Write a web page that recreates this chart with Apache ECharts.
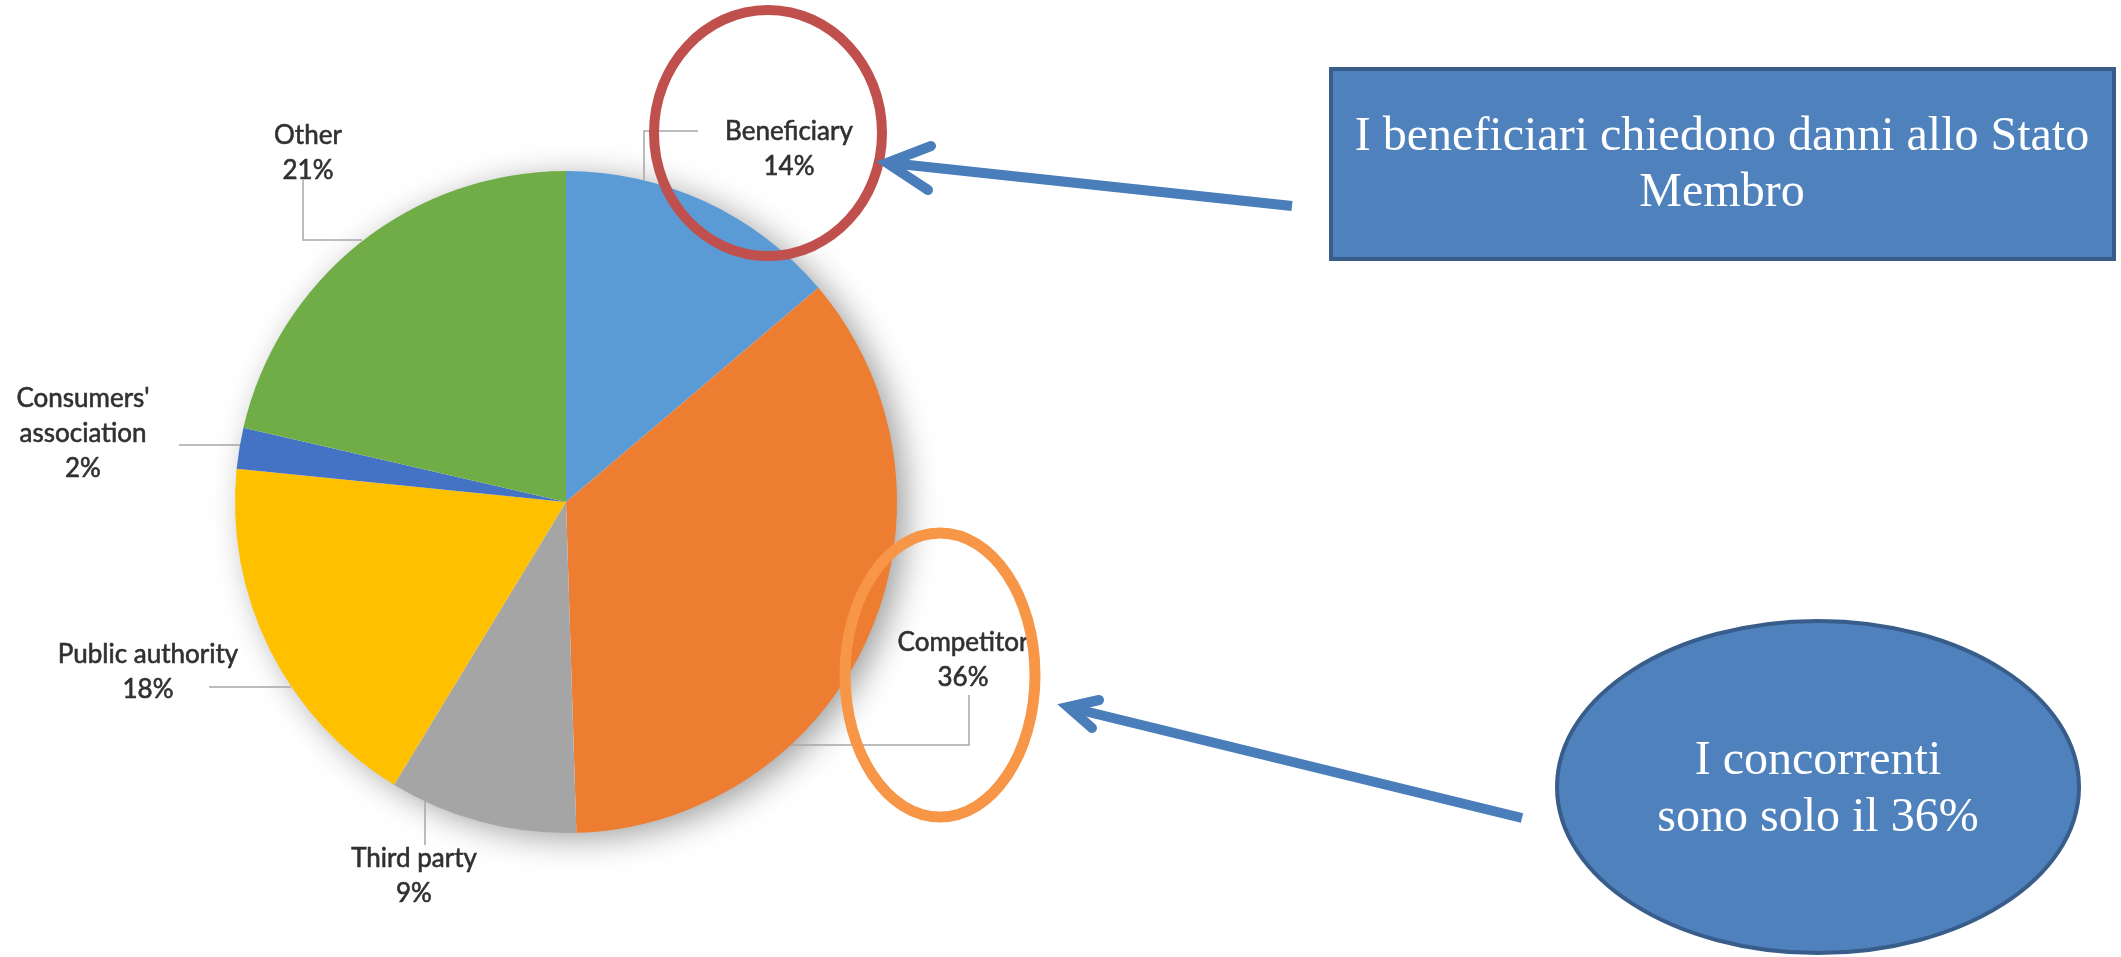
<!DOCTYPE html>
<html>
<head>
<meta charset="utf-8">
<script src="https://cdn.jsdelivr.net/npm/echarts@6/dist/echarts.min.js"></script>
<style>
html,body{margin:0;padding:0;background:#fff;}
#chart{width:2121px;height:957px;}
</style>
</head>
<body>
<div id="chart"></div>
<script>
// ---- data ----
const categories = ['Beneficiary', 'Competitor', 'Third party', 'Public authority', "Consumers'\nassociation", 'Other'];
const shares = [13.8, 35.7, 9.2, 17.9, 2.0, 21.4];
const sliceColors = ['#5B9BD5', '#ED7D31', '#A5A5A5', '#FFC000', '#4472C4', '#70AD47'];
const boxText = 'I beneficiari chiedono danni allo Stato\nMembro';
const ovalText = 'I concorrenti\nsono solo il 36%';

// ---- layout (label placement, leader lines) ----
const pieCenter = [566, 502];
const pieRadius = 331;
const labelPlacement = [
  { x: 789, y: 149, line: [[644, 180], [644, 131], [698, 131]] },
  { x: 963, y: 660, line: [[791, 745], [969, 745], [969, 695]] },
  { x: 414, y: 876, line: [[425, 801], [425, 845]] },
  { x: 148, y: 672, line: [[291, 687], [209, 687]] },
  { x: 83, y: 434, line: [[240, 445], [179, 445]] },
  { x: 308, y: 153, line: [[362, 240], [303, 240], [303, 180]] }
];

const chart = echarts.init(document.getElementById('chart'), null, { renderer: 'canvas' });

const option = {
  backgroundColor: '#ffffff',
  animation: false,
  graphic: [
    // soft shadow behind the pie
    {
      type: 'circle', z: 0, silent: true,
      shape: { cx: pieCenter[0], cy: pieCenter[1], r: pieRadius - 2 },
      style: { fill: '#ffffff', shadowBlur: 34, shadowOffsetX: 10, shadowOffsetY: 6, shadowColor: 'rgba(0,0,0,0.4)' }
    },
    // red ellipse around Beneficiary
    {
      type: 'ellipse', z: 100, silent: true,
      shape: { cx: 768, cy: 133, rx: 114, ry: 123 },
      style: { fill: 'none', stroke: '#C0504D', lineWidth: 10 }
    },
    // orange ellipse around Competitor
    {
      type: 'ellipse', z: 100, silent: true,
      shape: { cx: 940, cy: 675, rx: 95, ry: 142 },
      style: { fill: 'none', stroke: '#F79646', lineWidth: 11 }
    },
    // box
    {
      type: 'rect', z: 100, silent: true,
      shape: { x: 1331, y: 69, width: 783, height: 190 },
      style: { fill: '#4F81BD', stroke: '#385D8A', lineWidth: 4 }
    },
    {
      type: 'text', z: 101, silent: true,
      x: 1722, y: 165,
      style: {
        text: boxText, fill: '#ffffff', align: 'center', verticalAlign: 'middle',
        font: '48px "Liberation Serif", "Times New Roman", serif', lineHeight: 56
      }
    },
    // oval
    {
      type: 'ellipse', z: 100, silent: true,
      shape: { cx: 1818, cy: 787, rx: 261, ry: 166 },
      style: { fill: '#4F81BD', stroke: '#385D8A', lineWidth: 4 }
    },
    {
      type: 'text', z: 101, silent: true,
      x: 1818, y: 790,
      style: {
        text: ovalText, fill: '#ffffff', align: 'center', verticalAlign: 'middle',
        font: '48px "Liberation Serif", "Times New Roman", serif', lineHeight: 57
      }
    },
    // arrow 1 (box -> Beneficiary)
    {
      type: 'polyline', z: 100, silent: true,
      shape: { points: [[1292, 206], [890, 163]] },
      style: { stroke: '#4A7EBB', lineWidth: 10, fill: 'none' }
    },
    {
      type: 'polyline', z: 100, silent: true,
      shape: { points: [[931, 146], [887, 163], [928, 190]] },
      style: { stroke: '#4A7EBB', lineWidth: 10, fill: 'none', lineJoin: 'miter', lineCap: 'round' }
    },
    // arrow 2 (oval -> Competitor)
    {
      type: 'polyline', z: 100, silent: true,
      shape: { points: [[1522, 818], [1072, 708]] },
      style: { stroke: '#4A7EBB', lineWidth: 10, fill: 'none' }
    },
    {
      type: 'polyline', z: 100, silent: true,
      shape: { points: [[1099, 700], [1068, 707], [1092, 728]] },
      style: { stroke: '#4A7EBB', lineWidth: 10, fill: 'none', lineJoin: 'miter', lineCap: 'round' }
    }
  ],
  series: [{
    type: 'pie',
    z: 2,
    center: pieCenter,
    radius: pieRadius,
    startAngle: 90,
    clockwise: true,
    avoidLabelOverlap: false,
    silent: true,
    itemStyle: { borderWidth: 0 },
    label: {
      show: true,
      position: 'outside',
      color: '#303030',
      textBorderColor: '#303030',
      textBorderWidth: 0.6,
      fontFamily: 'Lato, "Open Sans", sans-serif',
      fontSize: 26,
      lineHeight: 35,
      align: 'center',
      formatter: p => p.name + '\n' + Math.round(p.percent) + '%'
    },
    labelLine: {
      show: true,
      length: 20,
      length2: 20,
      lineStyle: { color: '#A6A6A6', width: 1.5 }
    },
    labelLayout: params => {
      const pl = labelPlacement[params.dataIndex];
      return { x: pl.x, y: pl.y, align: 'center', verticalAlign: 'middle', labelLinePoints: pl.line };
    },
    data: categories.map((name, i) => ({ name: name, value: shares[i], itemStyle: { color: sliceColors[i] } }))
  }]
};

chart.setOption(option);
</script>
</body>
</html>
